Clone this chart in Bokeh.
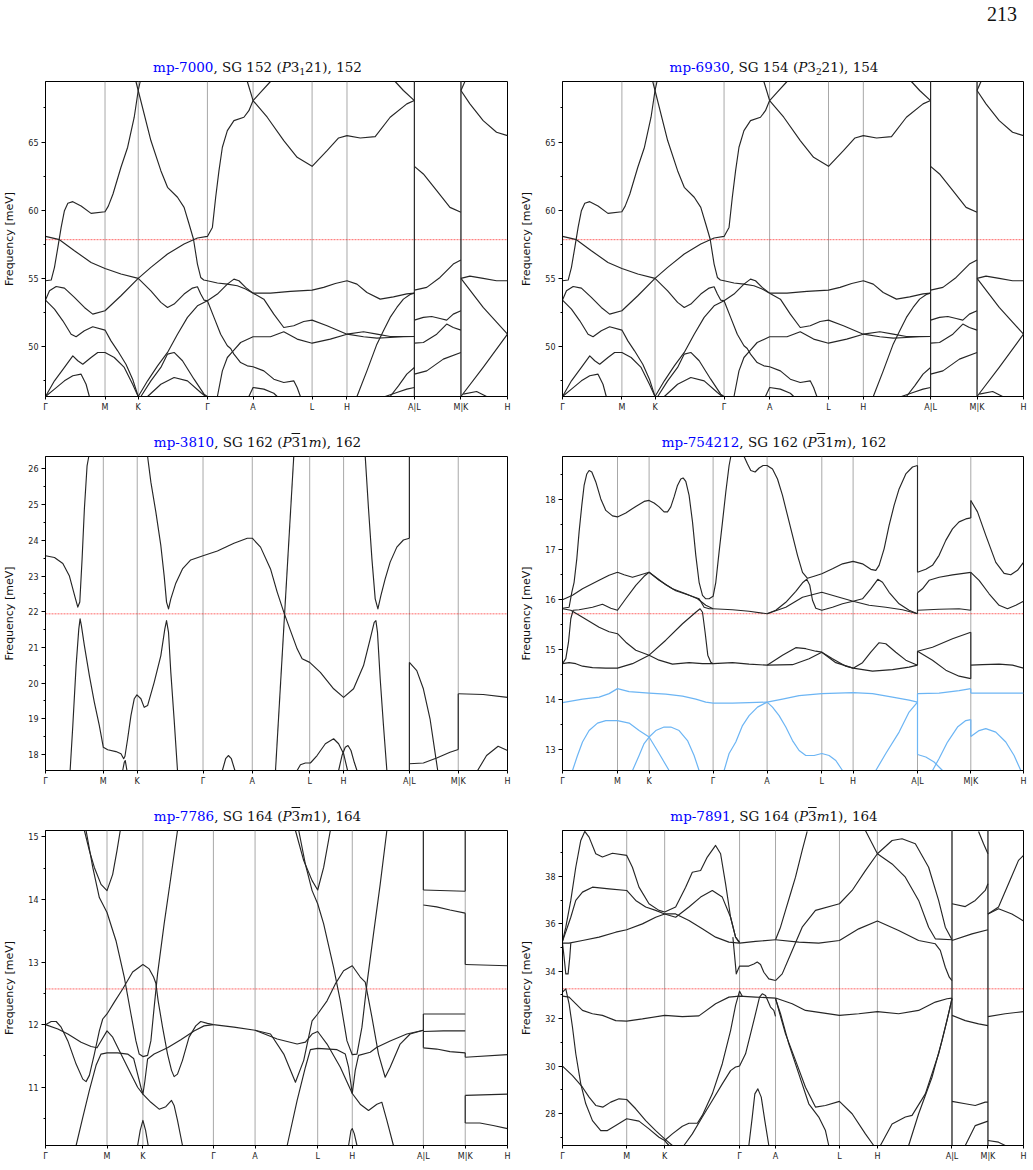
from bokeh.plotting import figure
from bokeh.models import Div, Span, FixedTicker, Range1d
from bokeh.layouts import column, row
from bokeh.embed import file_html
from bokeh.resources import INLINE

# High-symmetry path labels shared by every panel
KLABELS = ["Γ", "M", "K", "Γ", "A", "L", "H", "A|L", "M|K", "H"]

BAND_COLOR = "#262626"
LOW_COLOR = "#6cb5f4"

# ---------------- mp-7000 (SG 152) and mp-6930 (SG 154): same dispersion ----------------
K_7000 = [0, 59.7, 93.0, 162.4, 208.2, 267.4, 302.4, 370.0, 416.7, 463.4]
YLIM_7000 = (46.34, 69.44)
REF_7000 = 57.84
YMAJ_7000 = [50, 55, 60, 65]
YMIN_7000 = [47.5, 52.5, 57.5, 62.5, 67.5]
BANDS_7000 = [
    [(0, 54.83), (5.7, 54.88), (9, 55.81), (12.4, 57.28), (15.7, 58.74), (19, 59.97), (22.4, 60.51), (27.4, 60.63), (35.7, 60.31), (45.7, 59.77), (59.7, 59.89), (63, 60.3), (67.7, 61.19), (75.7, 63.15), (82.4, 64.62), (89, 66.82), (93, 68.78), (95, 69.44)],
    [(90.7, 69.44), (93, 68.78), (105.7, 65.11), (115.7, 62.9), (122.4, 61.68), (132.4, 60.95), (139, 60.21), (144, 58.99), (148.4, 57.89), (152.4, 56.05), (155.7, 55.07), (158.7, 54.88), (162.4, 54.83), (172.4, 54.66), (182.4, 54.58), (192.4, 54.46), (200.7, 54.22), (208.2, 53.92)],
    [(0, 58.08), (14, 57.84), (29, 57.03), (45.7, 56.17), (59.7, 55.73), (75.7, 55.32), (93, 55.0), (105.7, 54.09), (115.7, 53.24), (122.4, 52.87), (129, 53.12), (139, 53.85), (147.4, 54.29), (152.4, 54.39), (155.7, 53.85), (159, 53.41), (162.4, 53.36), (172.4, 53.85), (182.4, 54.58), (189, 54.95), (194, 54.83), (200.7, 54.34), (208.2, 53.92)],
    [(0, 53.41), (4, 54.09), (10.7, 54.41), (19, 54.29), (29, 53.61), (39, 52.87), (47.4, 52.38), (59.7, 52.63), (75.7, 53.73), (93, 55.0), (105.7, 55.81), (122.4, 56.79), (139, 57.52), (152.4, 57.96), (162.4, 58.08), (167.4, 58.74), (170.7, 60.95), (174, 62.9), (177.4, 64.62), (182.4, 65.84), (189, 66.57), (199, 66.82), (204, 67.3), (208.2, 68.04), (222.4, 66.82), (239, 65.11), (252.4, 63.88), (267.4, 63.22), (282.4, 64.37), (294, 65.3), (302.4, 65.47), (315.7, 65.3), (330.7, 65.4), (345.7, 66.82), (362.4, 67.8), (370, 68.04)],
    [(202.4, 69.44), (205.7, 68.65), (208.2, 68.04), (215.7, 68.65), (225.7, 69.44)],
    [(350.7, 69.44), (359, 68.78), (370, 68.04)],
    [(0, 53.41), (9, 52.75), (17.4, 51.89), (25.7, 50.91), (30.7, 50.72), (39, 51.16), (47.4, 51.45), (59.7, 51.21), (65.7, 50.42), (72.4, 49.69), (80.7, 48.71), (87.4, 47.61), (93, 46.34)],
    [(0, 46.34), (9, 47.49), (19, 48.47), (27.4, 49.32), (32.4, 48.96), (37.4, 48.71), (45.7, 49.2), (52.4, 49.57), (59.7, 49.57), (69, 49.2), (79, 48.47), (87.4, 47.24), (93, 46.34)],
    [(0, 46.34), (9, 46.88), (19, 47.49), (27.4, 47.86), (35.7, 47.98), (40.7, 47.24), (44, 46.34)],
    [(93, 46.34), (102.4, 47.49), (112.4, 48.59), (122.4, 49.57), (132.4, 50.91), (142.4, 52.14), (152.4, 52.99), (162.4, 53.36)],
    [(95.7, 46.34), (105.7, 47.49), (115.7, 48.47), (122.4, 49.45), (129, 49.57), (137.4, 48.96), (149, 47.61), (159, 46.51), (162.4, 46.34)],
    [(102.4, 46.34), (115.7, 47.24), (129, 47.73), (142.4, 47.49), (155.7, 46.63), (160.7, 46.34)],
    [(162.4, 53.36), (169, 52.14), (175.7, 50.91), (182.4, 50.06), (185.7, 49.86), (189, 49.45), (195.7, 48.83), (202.4, 48.59), (208.2, 48.52), (219, 48.22), (229, 47.61), (239, 47.37), (249, 47.49), (252.4, 47.0), (255.7, 46.34)],
    [(172.4, 46.34), (177.4, 48.22), (182.4, 49.2), (187.4, 49.62), (195.7, 50.3), (208.2, 50.72), (225.7, 50.72), (239, 51.09), (252.4, 50.55), (267.4, 50.25), (285.7, 50.55), (302.4, 50.91), (319, 51.09), (332.4, 50.91), (345.7, 50.74), (370, 50.74)],
    [(204, 46.34), (208.2, 47.0), (219, 46.88), (229, 46.58), (232.4, 46.34)],
    [(208.2, 53.92), (225.7, 53.92), (245.7, 54.05), (267.4, 54.14), (279, 54.34), (290.7, 54.63), (302.4, 54.83), (312.4, 54.58), (322.4, 53.97), (335.7, 53.48), (349, 53.65), (362.4, 53.87), (370, 53.92)],
    [(208.2, 53.92), (219, 53.48), (229, 52.38), (239, 51.4), (249, 51.53), (259, 51.84), (267.4, 51.94), (282.4, 51.53), (302.4, 50.91), (319, 50.72), (332.4, 50.62), (345.7, 50.67), (359, 50.72), (370, 50.74)],
    [(312.4, 46.34), (322.4, 48.22), (332.4, 50.18), (339, 51.16), (345.7, 52.14), (352.4, 52.87), (359, 53.48), (365.7, 53.82), (370, 53.92)],
    [(340.7, 46.34), (352.4, 46.63), (362.4, 46.88), (370, 47.0)],
    [(345.7, 46.34), (354, 47.12), (362.4, 47.98), (370, 48.47)],
    [(370, 63.22), (379, 62.66), (392.4, 61.44), (405.7, 60.21), (416.7, 59.85)],
    [(370, 54.14), (382.4, 54.34), (395.7, 55.07), (409, 56.05), (416.7, 56.35)],
    [(370, 51.94), (379, 52.14), (387.4, 52.21), (395.7, 52.06), (402.4, 51.94), (409, 52.38), (416.7, 52.63)],
    [(370, 50.25), (379, 50.3), (392.4, 50.91), (402.4, 51.65), (409, 51.4), (416.7, 51.21)],
    [(370, 47.98), (382.4, 48.22), (399, 49.08), (416.7, 49.57)],
    [(416.7, 68.78), (420.7, 69.44)],
    [(416.7, 68.78), (425.7, 67.8), (439, 66.57), (452.4, 65.72), (463.4, 65.47)],
    [(416.7, 55.0), (425.7, 55.17), (439, 55.0), (452.4, 54.83), (463.4, 54.83)],
    [(416.7, 55.0), (439, 52.87), (463.4, 50.91)],
    [(416.7, 46.34), (439, 48.47), (463.4, 50.91)],
    [(419, 46.51), (432.4, 46.71), (442.4, 46.34)],
]
JUMPS_7000 = [(370.0, 46.34, 69.44), (416.7, 46.34, 69.44)]

# ---------------- mp-3810 (SG 162) ----------------
K_3810 = [0, 58, 92, 158, 207.4, 265, 299, 365, 414, 463.4]
YLIM_3810 = (17.55, 26.35)
REF_3810 = 21.94
YMAJ_3810 = [18, 19, 20, 21, 22, 23, 24, 25, 26]
YMIN_3810 = [18.5, 19.5, 20.5, 21.5, 22.5, 23.5, 24.5, 25.5]
BANDS_3810 = [
    [(0, 23.57), (9, 23.52), (17.4, 23.35), (24, 23.0), (29.7, 22.4), (32.4, 22.13), (34.4, 22.27), (36.7, 23.48), (39, 24.88), (41.7, 26.09), (43.4, 26.35)],
    [(102.4, 26.35), (105.7, 25.63), (110.7, 24.79), (115.7, 23.85), (119, 23.01), (121.4, 22.27), (123.4, 22.08), (125.7, 22.36), (130.7, 22.8), (137.4, 23.2), (145.7, 23.45), (158, 23.57), (172.4, 23.7), (189, 23.92), (202.4, 24.06), (207.4, 24.06), (215.7, 23.81), (225.7, 23.2), (232.4, 22.55), (239, 21.99), (245.7, 21.47), (252.4, 20.96), (257.4, 20.68), (265, 20.58), (275.7, 20.3), (289, 19.84), (299, 19.6), (309, 19.84), (319, 20.49), (325.7, 21.24), (329.7, 21.7), (331.4, 21.75), (333, 21.42), (335.7, 20.12), (339, 18.81), (342.4, 17.55)],
    [(320.7, 26.35), (324, 24.88), (327.4, 23.48), (330.7, 22.36), (333.4, 22.08), (336.4, 22.45), (340.7, 22.92), (345.7, 23.39), (352.4, 23.81), (359, 24.01), (365, 24.06)],
    [(230.7, 17.55), (249, 26.35)],
    [(24.7, 17.55), (27.4, 18.81), (30.7, 20.49), (33.4, 21.52), (34.7, 21.8), (36, 21.61), (39, 21.05), (44, 20.21), (49, 19.46), (54, 18.81), (58, 18.2), (62.4, 18.13), (70.7, 18.08), (75.7, 18.02), (78.4, 17.88), (79.7, 17.95), (82.4, 18.44), (85.7, 19.09), (89, 19.56), (91.7, 19.67), (95.7, 19.56), (99, 19.32), (102.4, 19.37), (109, 20.02), (115.7, 20.77), (119.7, 21.52), (121.4, 21.75), (123.4, 21.42), (125.7, 20.3), (129, 18.99), (132.4, 17.55)],
    [(77.4, 17.55), (79, 17.78), (80, 17.83), (81.7, 17.55)],
    [(177.4, 17.55), (180.7, 17.88), (183.4, 17.97), (186.4, 17.88), (190, 17.55)],
    [(252.4, 17.55), (255.7, 17.71), (260.7, 17.76), (265.7, 17.76), (272.4, 17.97), (280.7, 18.3), (289, 18.44), (294, 18.3), (299, 18.02), (303, 17.55)],
    [(294, 17.55), (297.4, 17.97), (300.7, 18.2), (303.4, 18.25), (306.4, 18.11), (309.7, 17.78), (312.4, 17.55)],
    [(365, 20.58), (372.4, 20.35), (379, 19.84), (385.7, 19.0), (390.7, 18.06), (393.4, 17.55)],
    [(365, 17.74), (379, 17.76), (392.4, 17.9), (405.7, 18.06), (414, 18.14)],
    [(414, 19.7), (439, 19.68), (463.4, 19.6)],
    [(433.4, 17.55), (442.4, 17.97), (454, 18.23), (463.4, 18.11)],
]
JUMPS_3810 = [(365, 24.06, 26.35), (365, 17.55, 20.58), (414, 18.14, 19.7)]

# ---------------- mp-754212 (SG 162) ----------------
K_754212 = [0, 55, 86.6, 150.6, 204.6, 259.3, 290.6, 355, 408.3, 461]
YLIM_754212 = (12.57, 18.86)
REF_754212 = 15.71
YMAJ_754212 = [13, 14, 15, 16, 17, 18]
YMIN_754212 = [13.5, 14.5, 15.5, 16.5, 17.5, 18.5]
BANDS_754212 = [
    [(0, 15.82), (6.6, 15.84), (9.3, 16.14), (11.6, 16.34), (14.3, 16.81), (16.6, 17.35), (19.3, 17.88), (21.6, 18.28), (24.3, 18.51), (26.6, 18.58), (29.3, 18.55), (33.3, 18.35), (38.3, 18.01), (43.3, 17.78), (50, 17.67), (55, 17.65), (63.3, 17.73), (73.3, 17.86), (81.6, 17.96), (86.6, 17.98), (91.6, 17.93), (96.6, 17.85), (101.6, 17.75), (105, 17.75), (108.3, 17.85), (111.6, 18.05), (115, 18.28), (118.3, 18.41), (120.6, 18.43), (123.3, 18.36), (126.6, 18.08), (130, 17.55), (133.3, 16.88), (136.6, 16.34), (140, 16.08), (143.3, 16.01), (146.6, 16.01), (150.6, 16.06), (153.3, 16.34), (156.6, 16.95), (160, 17.55), (163.3, 18.15), (166.6, 18.68), (168.3, 18.86)],
    [(181.6, 18.86), (185, 18.71), (188.3, 18.58), (192.6, 18.55), (196.6, 18.63), (200.6, 18.68), (204.6, 18.68), (210, 18.61), (215, 18.41), (220, 18.08), (225, 17.68), (230, 17.28), (235, 16.88), (240, 16.54), (245, 16.42), (251.6, 16.46), (259.3, 16.51), (270, 16.61), (280, 16.71), (290.6, 16.76), (300, 16.71), (308.3, 16.6), (313.3, 16.58), (316.6, 16.68), (321.6, 17.01), (326.6, 17.48), (331.6, 17.88), (336.6, 18.21), (343.3, 18.51), (350, 18.65), (355, 18.68)],
    [(0, 15.99), (10, 16.08), (20, 16.21), (36.6, 16.38), (46.6, 16.48), (55, 16.54), (61.6, 16.49), (70, 16.44), (78.3, 16.49), (86.6, 16.54), (96.6, 16.38), (110, 16.21), (123.3, 16.11), (135, 16.01), (143.3, 15.88), (150.6, 15.81)],
    [(0, 14.71), (3.3, 14.81), (6, 15.14), (8.3, 15.61), (10.6, 15.78), (16.6, 15.79), (30, 15.84), (40, 15.9), (48.3, 15.82), (55, 15.78), (63.3, 16.01), (73.3, 16.28), (81.6, 16.46), (86.6, 16.54), (93.3, 16.44), (103.3, 16.29), (113.3, 16.17), (126.6, 16.08), (136.6, 16.01), (141.6, 15.84), (146.6, 15.81), (150.6, 15.81)],
    [(0, 15.81), (8.3, 15.78), (20, 15.64), (36.6, 15.44), (46.6, 15.35), (55, 15.31), (63.3, 15.14), (73.3, 14.98), (86.6, 14.88), (96.6, 14.78), (110, 14.7), (126.6, 14.73), (140, 14.71), (150.6, 14.71)],
    [(0, 14.71), (6.6, 14.73), (13.3, 14.71), (20, 14.66), (30, 14.63), (43.3, 14.62), (55, 14.62), (70, 14.71), (86.6, 14.88), (103.3, 15.18), (120, 15.51), (133.3, 15.74), (137.6, 15.81), (140, 15.74), (142.6, 15.34), (145.3, 14.88), (148.3, 14.74), (150.6, 14.71)],
    [(150.6, 15.81), (170, 15.79), (186.6, 15.76), (204.6, 15.71)],
    [(150.6, 14.71), (170, 14.73), (186.6, 14.7), (204.6, 14.68)],
    [(204.6, 15.71), (213.3, 15.78), (223.3, 15.94), (233.3, 16.16), (240, 16.33), (244.3, 16.4), (247.3, 16.28), (250, 15.98), (253.3, 15.82), (259.3, 15.78), (270, 15.84), (280, 15.91), (290.6, 15.96), (300, 16.01), (308.3, 16.21), (315.3, 16.4), (320, 16.34), (326.6, 16.14), (336.6, 15.91), (346.6, 15.78), (355, 15.71)],
    [(204.6, 15.71), (223.3, 15.84), (240, 16.04), (259.3, 16.14), (276.6, 16.04), (290.6, 15.96), (306.6, 15.88), (323.3, 15.84), (340, 15.79), (355, 15.71)],
    [(204.6, 14.68), (220, 14.88), (233.3, 15.03), (243.3, 15.01), (253.3, 14.96), (259.3, 14.94), (270, 14.81), (283.3, 14.66), (290.6, 14.62), (300, 14.73), (308.3, 14.94), (316.6, 15.13), (323.3, 15.11), (333.3, 14.94), (343.3, 14.78), (355, 14.68)],
    [(204.6, 14.68), (230, 14.69), (246.6, 14.81), (259.3, 14.94), (273.3, 14.73), (290.6, 14.62), (310, 14.56), (330, 14.59), (346.6, 14.64), (355, 14.68)],
    [(355, 16.54), (363.3, 16.6), (370, 16.68), (376.6, 16.88), (383.3, 17.18), (390, 17.41), (396.6, 17.55), (403.3, 17.61), (408.3, 17.63)],
    [(355, 16.13), (360, 16.21), (366.6, 16.38), (376.6, 16.44), (390, 16.49), (408.3, 16.54)],
    [(355, 15.78), (376.6, 15.8), (396.6, 15.81), (408.3, 15.78)],
    [(355, 14.96), (370, 15.04), (390, 15.21), (408.3, 15.34)],
    [(355, 14.96), (370, 14.78), (383.3, 14.58), (396.6, 14.46), (408.3, 14.41)],
    [(408.3, 17.98), (415, 17.75), (423.3, 17.28), (433.3, 16.74), (441.6, 16.52), (448.3, 16.49), (455, 16.58), (461, 16.74)],
    [(408.3, 16.54), (416.6, 16.38), (426.6, 16.11), (436.6, 15.88), (445, 15.81), (453.3, 15.88), (461, 15.96)],
    [(408.3, 14.68), (420, 14.69), (436.6, 14.7), (450, 14.68), (461, 14.62)],
]
LOW_754212 = [
    [(0, 13.93), (20, 14.0), (36.6, 14.04), (46.6, 14.11), (55, 14.21), (66.6, 14.15), (86.6, 14.12), (103.3, 14.1), (120, 14.06), (133.3, 14.0), (143.3, 13.94), (150.6, 13.92), (170, 13.92), (186.6, 13.93), (204.6, 13.94)],
    [(10, 12.57), (15, 12.87), (20, 13.14), (26.6, 13.37), (35, 13.52), (43.3, 13.57), (55, 13.57), (66.6, 13.52), (76.6, 13.37), (86.6, 13.24), (96.6, 12.91), (106.6, 12.57)],
    [(70, 12.57), (76.6, 12.87), (81.6, 13.11), (86.6, 13.24), (93.3, 13.37), (101.6, 13.44), (108.3, 13.44), (116.6, 13.37), (125, 13.17), (131.6, 12.87), (136.6, 12.57)],
    [(161.6, 12.57), (166.6, 12.91), (173.3, 13.14), (180, 13.47), (186.6, 13.67), (195, 13.84), (204.6, 13.94)],
    [(204.6, 13.94), (210, 13.84), (216.6, 13.67), (223.3, 13.44), (230, 13.17), (236.6, 12.97), (243.3, 12.87), (251.6, 12.87), (259.3, 12.91), (266.6, 12.87), (273.3, 12.77), (280, 12.57)],
    [(204.6, 13.94), (220, 14.0), (236.6, 14.07), (259.3, 14.11), (290.6, 14.13), (310, 14.11), (330, 14.04), (346.6, 13.98), (355, 13.94)],
    [(313.3, 12.57), (323.3, 12.91), (336.6, 13.34), (346.6, 13.74), (355, 13.94)],
    [(355, 14.11), (376.6, 14.12), (396.6, 14.17), (408.3, 14.21)],
    [(355, 12.89), (363.3, 12.84), (371.6, 12.74), (380, 12.57)],
    [(370, 12.57), (376.6, 12.81), (385, 13.14), (395, 13.44), (403.3, 13.57), (408.3, 13.59)],
    [(408.3, 14.12), (436.6, 14.12), (461, 14.12)],
    [(408.3, 13.25), (416.6, 13.37), (423.3, 13.41), (433.3, 13.34), (443.3, 13.14), (451.6, 12.87), (458.3, 12.57)],
]
JUMPS_754212 = [(355, 16.54, 18.68), (355, 15.71, 16.13), (355, 14.68, 14.96),
                (408.3, 17.63, 17.98), (408.3, 15.78, 16.54), (408.3, 14.41, 15.34)]
LOW_JUMPS_754212 = [(355, 12.89, 14.11), (408.3, 14.12, 14.21), (408.3, 13.25, 13.59)]

# ---------------- mp-7786 (SG 164) ----------------
K_7786 = [0, 61.7, 97.7, 168.4, 210.2, 273, 307.7, 379, 421, 463.4]
YLIM_7786 = (10.07, 15.1)
REF_7786 = 12.57
YMAJ_7786 = [11, 12, 13, 14, 15]
YMIN_7786 = [10.5, 11.5, 12.5, 13.5, 14.5]
BANDS_7786 = [
    [(39, 15.1), (44, 14.78), (49, 14.51), (55.7, 14.24), (61.7, 14.14), (67.4, 14.4), (71.7, 14.78), (75, 15.1)],
    [(40.7, 15.1), (47.4, 14.51), (54, 14.03), (61.7, 13.79), (70.7, 13.34), (79, 12.76), (85.7, 12.17), (90.7, 11.74), (94, 11.53), (97.7, 11.49), (102.4, 11.51), (105.7, 11.74), (109, 12.28), (112.4, 12.81), (119, 13.61), (125.7, 14.35), (132.4, 15.1)],
    [(0, 12.0), (5.7, 12.05), (10.7, 12.05), (15.7, 11.96), (22.4, 11.74), (30.7, 11.37), (37.4, 11.13), (40.7, 11.09), (44, 11.19), (49, 11.53), (54, 11.9), (57.4, 12.09), (61.7, 12.17), (69, 12.36), (77.4, 12.57), (87.4, 12.84), (97.7, 12.96), (104, 12.89), (108.4, 12.76), (110.7, 12.66), (113, 12.38), (117.4, 11.96), (122.4, 11.53), (126.4, 11.27), (129, 11.17), (132.4, 11.21), (137.4, 11.43), (144, 11.8), (150.7, 11.98), (155.7, 12.05), (162.4, 12.02), (168.4, 12.0)],
    [(0, 12.0), (12.4, 11.93), (22.4, 11.85), (35.7, 11.72), (45.7, 11.65), (51.7, 11.63), (55.7, 11.74), (61.7, 11.9), (67.4, 11.8), (75.7, 11.53), (85.7, 11.21), (92.4, 11.0), (97.7, 10.89), (105.7, 10.76), (114, 10.65), (120.7, 10.69), (126.4, 10.79), (129, 10.71), (132.4, 10.47), (137.4, 10.07)],
    [(30.7, 10.07), (37.4, 10.52), (44, 10.95), (50.7, 11.35), (55.7, 11.53), (61.7, 11.55), (72.4, 11.55), (82.4, 11.53), (88.4, 11.46), (92.4, 11.21), (95.7, 11.0), (97.7, 10.89), (99.7, 11.1), (102.4, 11.45), (109, 11.53), (122.4, 11.63), (135.7, 11.76), (149, 11.9), (159, 11.98), (168.4, 12.0)],
    [(92.4, 10.07), (95, 10.31), (97.7, 10.47), (100.4, 10.31), (103, 10.07)],
    [(168.4, 12.0), (189, 11.96), (210.2, 11.91)],
    [(250.7, 15.1), (259, 14.62), (267.4, 14.3), (273, 14.15), (279, 14.51), (285.7, 15.1)],
    [(254, 15.1), (260.7, 14.56), (267.4, 14.14), (273, 13.93), (279, 13.61), (289, 12.91), (295.7, 12.38), (302.4, 11.74), (307.7, 11.52), (312.4, 11.53), (317.4, 11.96), (322.4, 12.65), (329, 13.45), (335.7, 14.24), (342.4, 15.1)],
    [(210.2, 11.91), (225.7, 11.85), (239, 11.53), (250.7, 11.08), (259, 11.43), (267.4, 12.06), (273, 12.17), (282.4, 12.38), (290.7, 12.65), (299, 12.86), (307.7, 12.94), (315.7, 12.76), (320.7, 12.68), (322.4, 12.54), (327.4, 12.12), (334, 11.53), (340.7, 11.16), (345.7, 11.32), (355.7, 11.69), (365.7, 11.85), (379, 11.91)],
    [(210.2, 11.91), (232.4, 11.77), (252.4, 11.69), (260.7, 11.72), (267.4, 11.85), (273, 11.89), (282.4, 11.69), (295.7, 11.32), (307.7, 10.9), (315.7, 10.73), (324, 10.63), (332.4, 10.73), (337.4, 10.76), (342.4, 10.47), (349, 10.07)],
    [(242.4, 10.07), (252.4, 10.79), (260.7, 11.32), (265.7, 11.6), (273, 11.62), (292.4, 11.6), (300.7, 11.53), (304, 11.32), (307.7, 10.9), (310.7, 11.27), (314, 11.51), (325.7, 11.56), (332.4, 11.64), (345.7, 11.74), (362.4, 11.85), (379, 11.91)],
    [(304, 10.07), (306.4, 10.31), (307.7, 10.34), (309.7, 10.26), (312.4, 10.07)],
    [(379, 14.15), (421, 14.13)],
    [(379, 13.91), (392.4, 13.88), (405.7, 13.83), (421, 13.78)],
    [(379, 12.17), (421, 12.17)],
    [(379, 11.89), (399, 11.9), (421, 11.9)],
    [(379, 11.63), (392.4, 11.61), (405.7, 11.57), (421, 11.55)],
    [(421, 12.96), (463.4, 12.94)],
    [(421, 11.48), (463.4, 11.52)],
    [(421, 10.87), (463.4, 10.89)],
    [(421, 10.43), (435.7, 10.43), (449, 10.39), (463.4, 10.34)],
]
JUMPS_7786 = [(379, 14.15, 15.1), (379, 11.63, 12.17), (421, 14.13, 15.1),
              (421, 12.96, 13.78), (421, 11.48, 11.55), (421, 10.43, 10.87)]

# ---------------- mp-7891 (SG 164) ----------------
K_7891 = [0, 64.3, 102.3, 177.3, 213.3, 277.3, 315.3, 390, 426, 461.6]
YLIM_7891 = (26.65, 39.94)
REF_7891 = 33.26
YMAJ_7891 = [28, 30, 32, 34, 36, 38]
YMIN_7891 = [27, 29, 31, 33, 35, 37, 39]
BANDS_7891 = [
    [(0, 35.26), (3.3, 35.86), (8.3, 36.99), (13.3, 38.39), (18.3, 39.52), (22.3, 39.9), (26.6, 39.66), (33.3, 38.96), (40, 38.82), (50, 38.98), (64.3, 38.89), (70, 38.39), (76.6, 37.55), (86.6, 36.85), (96.6, 36.57), (102.3, 36.5), (113.3, 36.71), (123.3, 37.55), (130, 38.18), (138.3, 38.25), (145, 38.82), (153.3, 39.31), (158.3, 38.96), (163.3, 37.69), (168.3, 36.28), (173.3, 35.44), (177.3, 35.23)],
    [(0, 35.26), (8.3, 36.28), (13.3, 36.99), (20, 37.34), (30, 37.55), (46.6, 37.48), (64.3, 37.41), (73.3, 36.99), (83.3, 36.71), (93.3, 36.57), (102.3, 36.42), (113.3, 36.28), (126.6, 36.71), (138.3, 37.13), (150, 37.41), (160, 37.13), (168.3, 36.28), (173.3, 35.44), (177.3, 35.19)],
    [(0, 35.19), (6.6, 35.19), (20, 35.3), (36.6, 35.44), (53.3, 35.65), (64.3, 35.75), (80, 36.0), (93.3, 36.28), (102.3, 36.42), (113.3, 36.42), (126.6, 36.14), (140, 35.79), (153.3, 35.44), (166.6, 35.23), (177.3, 35.19)],
    [(0, 35.19), (1.6, 34.6), (3.3, 33.89), (5.6, 33.89), (7.3, 34.6), (8.3, 35.19)],
    [(177.3, 35.19), (193.3, 35.26), (213.3, 35.33)],
    [(170.6, 35.44), (174, 33.89), (176, 34.1), (177.3, 34.22), (186.6, 34.22), (191.6, 34.31), (195, 34.39), (198.3, 34.29), (201.6, 33.96), (206.6, 33.68), (213.3, 33.61)],
    [(0, 32.95), (6.6, 32.91), (20, 32.35), (30, 32.21), (40, 32.14), (53.3, 31.92), (64.3, 31.9), (80, 31.99), (102.3, 32.14), (120, 32.09), (136.6, 32.12), (153.3, 32.63), (166.6, 32.91), (177.3, 32.95), (193.3, 32.91), (213.3, 32.87)],
    [(0, 33.12), (3.3, 33.26), (6.6, 32.63), (10, 31.64), (13.3, 30.52), (18.3, 29.25), (23.3, 28.41), (30, 27.7), (38.3, 27.28), (45, 27.28), (53.3, 27.49), (64.3, 27.78), (76.6, 27.68), (86.6, 27.35), (96.6, 27.0), (102.3, 26.86), (106.6, 26.65)],
    [(0, 30.0), (10, 29.6), (20, 29.11), (26.6, 28.69), (33.3, 28.34), (40.6, 28.27), (48.3, 28.48), (56.6, 28.62), (64.3, 28.59), (73.3, 28.2), (83.3, 27.7), (93.3, 27.28), (102.3, 26.93), (110, 26.65)],
    [(102.3, 26.86), (110, 27.14), (120, 27.46), (126.6, 27.59), (135, 27.59), (140, 27.92), (150, 28.83), (160, 30.1), (168.3, 31.5), (173.3, 32.56), (177.3, 33.16), (180, 32.95)],
    [(121.6, 26.65), (130, 27.14), (140, 27.85), (150, 28.55), (160, 29.25), (168.3, 29.81), (173.3, 29.96), (177.3, 30.0)],
    [(177.3, 30.0), (183.3, 30.52), (188.3, 31.36), (193.3, 32.21), (197.3, 32.91), (200, 33.05), (203.3, 32.98), (208.3, 32.49), (211.6, 32.35), (213.3, 32.1)],
    [(186.6, 26.65), (190, 27.85), (192.6, 28.83), (195.6, 29.04), (199, 28.69), (202.6, 27.7), (206.6, 26.65)],
    [(213.3, 35.33), (218.3, 35.86), (223.3, 36.57), (228.3, 37.27), (233.3, 37.97), (240, 39.1), (245, 39.9)],
    [(213.3, 35.33), (236.6, 35.23), (256.6, 35.19), (277.3, 35.3), (296.6, 35.79), (315.3, 36.12), (336.6, 35.72), (356.6, 35.3), (373.3, 35.16), (378.3, 34.88), (383.3, 34.17), (387.3, 33.75), (390, 33.61)],
    [(213.3, 33.61), (220, 33.89), (230, 34.88), (240, 35.86), (253.3, 36.57), (277.3, 36.85), (290, 37.41), (303.3, 38.25), (315.3, 38.96), (330, 39.52), (340, 39.59), (353.3, 39.38), (366.6, 38.39), (376.6, 36.99), (383.3, 35.86), (390, 35.33)],
    [(303.3, 39.94), (315.3, 38.96), (330, 38.53), (343.3, 37.97), (356.6, 36.99), (366.6, 35.86), (373.3, 35.37), (390, 35.33)],
    [(213.3, 32.87), (230, 32.63), (243.3, 32.35), (277.3, 32.14), (296.6, 32.21), (315.3, 32.3), (336.6, 32.21), (356.6, 32.35), (373.3, 32.7), (385, 32.84), (390, 32.87)],
    [(213.3, 32.87), (216.6, 32.35), (223.3, 31.36), (233.3, 30.24), (243.3, 29.11), (253.3, 28.27), (263.3, 28.34), (277.3, 28.51), (290, 27.99), (303.3, 27.14), (311.6, 26.65)],
    [(213.3, 32.84), (218.3, 32.21), (226.6, 30.94), (236.6, 29.67), (246.6, 28.41), (256.6, 27.85), (263.3, 27.28), (266.6, 26.65)],
    [(318.3, 26.65), (330, 27.56), (343.3, 27.85), (350, 27.92), (363.3, 28.83), (376.6, 30.52), (385, 31.92), (390, 32.84)],
    [(346.6, 26.65), (356.6, 27.99), (370, 29.53), (380, 31.08), (387.3, 32.35), (390, 32.87)],
    [(390, 36.85), (403.3, 36.73), (413.3, 36.99), (423.3, 37.41), (426, 37.69)],
    [(390, 35.3), (410, 35.58), (426, 35.75)],
    [(390, 32.14), (403.3, 31.92), (416.6, 31.78), (426, 31.71)],
    [(390, 28.51), (403.3, 28.41), (413.3, 28.34), (423.3, 28.48), (426, 28.48)],
    [(403.3, 26.65), (413.3, 27.49), (426, 27.68)],
    [(416.6, 39.9), (421.6, 39.38), (426, 38.96)],
    [(426, 36.42), (436.6, 36.64), (450, 36.42), (461.6, 36.12)],
    [(426, 36.42), (436.6, 36.71), (446.6, 37.69), (456.6, 38.68), (461.6, 38.89)],
    [(426, 32.09), (443.3, 32.21), (461.6, 32.3)],
    [(426, 26.86), (436.6, 26.79), (443.3, 26.65)],
]
JUMPS_7891 = [(390, 26.65, 39.94), (426, 26.65, 39.94)]


def split(bands):
    return [[x for x, _ in b] for b in bands], [[y for _, y in b] for b in bands]


def make_panel(kpts, ylim, ref, ymaj, ymin, bands, jumps, low=(), low_jumps=(),
               width=515, height=351, left=44, right=8, bottom=35):
    p = figure(width=width, height=height, output_backend="svg", toolbar_location=None,
               x_range=Range1d(kpts[0], kpts[-1]), y_range=Range1d(*ylim),
               title_location=None, min_border_left=left, min_border_right=right,
               min_border_top=1, min_border_bottom=bottom)
    p.xgrid.visible = False
    p.ygrid.visible = False
    p.outline_line_color = "black"
    p.outline_line_width = 1
    p.outline_line_alpha = 1

    for k in kpts[1:-1]:
        p.add_layout(Span(location=k, dimension="height", line_color="#a8a8a8",
                          line_width=1, level="underlay"))
    p.add_layout(Span(location=ref, dimension="width", line_color="red", line_alpha=0.75,
                      line_width=0.8, line_dash="2 1", level="underlay"))

    if low:
        xs, ys = split(low)
        p.multi_line(xs, ys, line_color=LOW_COLOR, line_width=1.2, line_join="round")
    if low_jumps:
        p.segment(x0=[j[0] for j in low_jumps], y0=[j[1] for j in low_jumps],
                  x1=[j[0] for j in low_jumps], y1=[j[2] for j in low_jumps],
                  line_color=LOW_COLOR, line_width=1.2)
    xs, ys = split(bands)
    p.multi_line(xs, ys, line_color=BAND_COLOR, line_width=1.15, line_join="round")
    p.segment(x0=[j[0] for j in jumps], y0=[j[1] for j in jumps],
              x1=[j[0] for j in jumps], y1=[j[2] for j in jumps],
              line_color=BAND_COLOR, line_width=1.15)

    xa = p.xaxis[0]
    xa.ticker = FixedTicker(ticks=list(kpts), minor_ticks=[])
    xa.major_label_overrides = {k: lab for k, lab in zip(kpts, KLABELS)}
    xa.major_label_text_font = "DejaVu Sans"
    xa.major_label_text_font_size = "8px"
    xa.major_label_text_color = "#222222"
    xa.major_tick_out = 3
    xa.major_tick_in = 0
    xa.minor_tick_out = 0
    xa.major_label_standoff = 3

    ya = p.yaxis[0]
    ya.ticker = FixedTicker(ticks=ymaj, minor_ticks=ymin)
    ya.major_label_text_font = "DejaVu Sans"
    ya.major_label_text_font_size = "8px"
    ya.major_label_text_color = "#222222"
    ya.major_tick_out = 4
    ya.major_tick_in = 0
    ya.minor_tick_out = 2
    ya.minor_tick_in = 0
    ya.major_label_standoff = 3
    ya.axis_label = "Frequency [meV]"
    ya.axis_label_text_font = "DejaVu Sans"
    ya.axis_label_text_font_size = "11px"
    ya.axis_label_text_font_style = "normal"
    ya.axis_label_text_color = "#111111"
    ya.axis_label_standoff = 9
    return p


def title_div(mp, rest, width):
    html = ('<div style="width:%dpx;text-align:center;font-family:\'DejaVu Serif\';'
            'font-size:13.5px;line-height:22px;color:#111;white-space:nowrap">'
            '<span style="color:#0000ff">%s</span>%s</div>') % (width, mp, rest)
    return Div(text=html, width=width, height=24, margin=(0, 0, 0, 0))


SUB = '<sub style="font-size:9px;line-height:0;vertical-align:-3px">%s</sub>'
BAR3 = '<span style="text-decoration:overline">3</span>'

t1 = title_div("mp-7000", ", SG 152 (<i>P</i>3" + SUB % "1" + "21), 152", 515)
t2 = title_div("mp-6930", ", SG 154 (<i>P</i>3" + SUB % "2" + "21), 154", 518)
t3 = title_div("mp-3810", ", SG 162 (<i>P</i>" + BAR3 + "1<i>m</i>), 162", 515)
t4 = title_div("mp-754212", ", SG 162 (<i>P</i>" + BAR3 + "1<i>m</i>), 162", 518)
t5 = title_div("mp-7786", ", SG 164 (<i>P</i>" + BAR3 + "<i>m</i>1), 164", 515)
t6 = title_div("mp-7891", ", SG 164 (<i>P</i>" + BAR3 + "<i>m</i>1), 164", 518)

f1 = make_panel(K_7000, YLIM_7000, REF_7000, YMAJ_7000, YMIN_7000, BANDS_7000, JUMPS_7000)
f2 = make_panel(K_7000, YLIM_7000, REF_7000, YMAJ_7000, YMIN_7000, BANDS_7000, JUMPS_7000,
                width=518, left=47, right=10)
f3 = make_panel(K_3810, YLIM_3810, REF_3810, YMAJ_3810, YMIN_3810, BANDS_3810, JUMPS_3810,
                height=350)
f4 = make_panel(K_754212, YLIM_754212, REF_754212, YMAJ_754212, YMIN_754212, BANDS_754212,
                JUMPS_754212, LOW_754212, LOW_JUMPS_754212, width=518, height=350, left=47, right=10)
f5 = make_panel(K_7786, YLIM_7786, REF_7786, YMAJ_7786, YMIN_7786, BANDS_7786, JUMPS_7786,
                height=341, bottom=25)
f6 = make_panel(K_7891, YLIM_7891, REF_7891, YMAJ_7891, YMIN_7891, BANDS_7891, JUMPS_7891,
                width=518, height=341, left=47, right=10, bottom=25)

page = Div(text='<div style="width:1017px;text-align:right;font-family:\'Liberation Serif\';'
                'font-size:20px;line-height:20px;padding-top:4px;color:#111">213</div>',
           width=1033, height=56, margin=(0, 0, 0, 0))

layout = column(
    page,
    row(column(t1, f1, spacing=0), column(t2, f2, spacing=0), spacing=0),
    row(column(t3, f3, spacing=0), column(t4, f4, spacing=0), spacing=0),
    row(column(t5, f5, spacing=0), column(t6, f6, spacing=0), spacing=0),
    spacing=0,
)

open("out.html", "w").write(file_html(layout, INLINE, title="Phonon band structures"))
